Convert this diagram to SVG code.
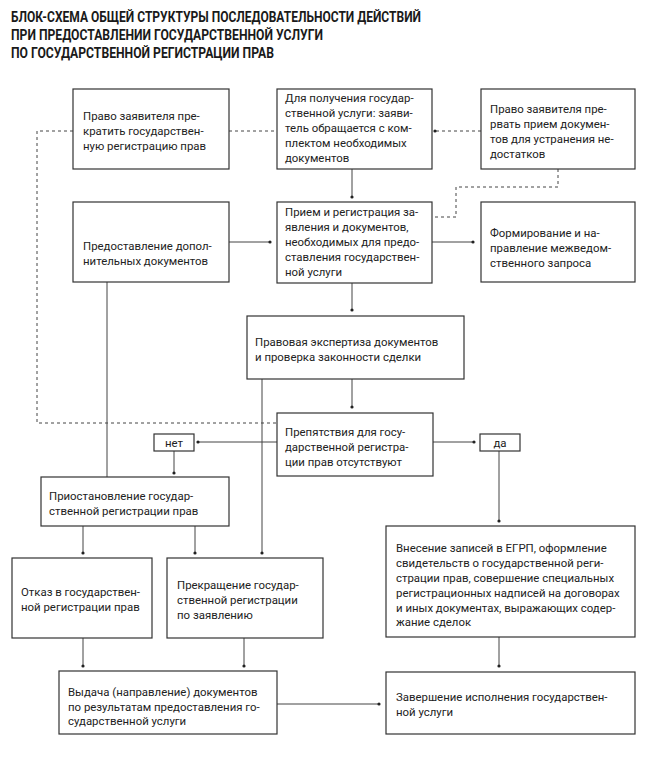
<svg xmlns="http://www.w3.org/2000/svg" width="650" height="760" viewBox="0 0 650 760">
<defs>
<marker id="dot" markerWidth="4" markerHeight="4" refX="2" refY="2" markerUnits="userSpaceOnUse">
<circle cx="2" cy="2" r="1.6" fill="#222"/>
</marker>
<style>
.box{fill:#fff;stroke:#333;stroke-width:1.2}
.t{font-family:Roboto,"Noto Sans","DejaVu Sans",sans-serif;font-size:11.4px;fill:#222}
.c{text-anchor:middle}
.ttl{font-family:Roboto,"DejaVu Sans",sans-serif;font-size:14.5px;font-weight:bold;fill:#1a1a1a}
.ln{fill:none;stroke:#444;stroke-width:1}
.dl{fill:none;stroke:#444;stroke-width:1;stroke-dasharray:3 3}
</style>
</defs>
<rect width="650" height="760" fill="#fff"/>
<g id="title">
<text class="ttl" x="11" y="22" textLength="410" lengthAdjust="spacingAndGlyphs">БЛОК-СХЕМА ОБЩЕЙ СТРУКТУРЫ ПОСЛЕДОВАТЕЛЬНОСТИ ДЕЙСТВИЙ</text>
<text class="ttl" x="11" y="40" textLength="312" lengthAdjust="spacingAndGlyphs">ПРИ ПРЕДОСТАВЛЕНИИ ГОСУДАРСТВЕННОЙ УСЛУГИ</text>
<text class="ttl" x="11" y="58" textLength="263" lengthAdjust="spacingAndGlyphs">ПО ГОСУДАРСТВЕННОЙ РЕГИСТРАЦИИ ПРАВ</text>
</g>
<g id="connectors">
<path class="dl" d="M229,131 H277"/>
<path class="dl" d="M481,131 H435" marker-end="url(#dot)"/>
<path class="dl" d="M558,169 V187 H456 V217 H432"/>
<path class="dl" d="M73,131 H37 V423 H277"/>
<path class="ln" d="M352,169 V197" marker-end="url(#dot)"/>
<path class="ln" d="M229,242 H270" marker-end="url(#dot)"/>
<path class="ln" d="M432,242 H473" marker-end="url(#dot)"/>
<path class="ln" d="M352,283 V310" marker-end="url(#dot)"/>
<path class="ln" d="M352,379 V407" marker-end="url(#dot)"/>
<path class="ln" d="M277,442 H198" marker-end="url(#dot)"/>
<path class="ln" d="M433,442 H474" marker-end="url(#dot)"/>
<path class="ln" d="M174,451 V473" marker-end="url(#dot)"/>
<path class="ln" d="M499,451 V521" marker-end="url(#dot)"/>
<path class="ln" d="M107,282 V477"/>
<path class="ln" d="M262,379 V553" marker-end="url(#dot)"/>
<path class="ln" d="M83,526 V553" marker-end="url(#dot)"/>
<path class="ln" d="M195,526 V553" marker-end="url(#dot)"/>
<path class="ln" d="M83,638 V666" marker-end="url(#dot)"/>
<path class="ln" d="M244,638 V666" marker-end="url(#dot)"/>
<path class="ln" d="M277,704 H379" marker-end="url(#dot)"/>
<path class="ln" d="M499,637 V666" marker-end="url(#dot)"/>
</g>
<g id="n-terminate">
<rect class="box" x="73" y="89" width="156" height="80"/>
<text class="t" x="83" y="119.5">Право заявителя пре-</text>
<text class="t" x="83" y="134.5">кратить государствен-</text>
<text class="t" x="83" y="149.5">ную регистрацию прав</text>
</g>
<g id="n-start">
<rect class="box" x="277" y="89" width="155" height="80"/>
<text class="t" x="285" y="102">Для получения государ-</text>
<text class="t" x="285" y="117">ственной услуги: заяви-</text>
<text class="t" x="285" y="132">тель обращается с ком-</text>
<text class="t" x="285" y="147">плектом необходимых</text>
<text class="t" x="285" y="162">документов</text>
</g>
<g id="n-interrupt">
<rect class="box" x="481" y="89" width="154" height="80"/>
<text class="t" x="490" y="113">Право заявителя пре-</text>
<text class="t" x="490" y="128">рвать прием докумен-</text>
<text class="t" x="490" y="143">тов для устранения не-</text>
<text class="t" x="490" y="158">достатков</text>
</g>
<g id="n-additional">
<rect class="box" x="73" y="202" width="156" height="80"/>
<text class="t" x="83" y="250">Предоставление допол-</text>
<text class="t" x="83" y="264.5">нительных документов</text>
</g>
<g id="n-reception">
<rect class="box" x="277" y="202" width="155" height="81"/>
<text class="t" x="285" y="216">Прием и регистрация за-</text>
<text class="t" x="285" y="231">явления и документов,</text>
<text class="t" x="285" y="246">необходимых для предо-</text>
<text class="t" x="285" y="261">ставления государствен-</text>
<text class="t" x="285" y="276">ной услуги</text>
</g>
<g id="n-request">
<rect class="box" x="481" y="202" width="154" height="80"/>
<text class="t" x="490" y="237">Формирование и на-</text>
<text class="t" x="490" y="252">правление межведом-</text>
<text class="t" x="490" y="267">ственного запроса</text>
</g>
<g id="n-expertise">
<rect class="box" x="247" y="316" width="217" height="63"/>
<text class="t" x="255" y="346">Правовая экспертиза документов</text>
<text class="t" x="255" y="361">и проверка законности сделки</text>
</g>
<g id="n-obstacles">
<rect class="box" x="277" y="413" width="156" height="63"/>
<text class="t" x="285" y="436">Препятствия для госу-</text>
<text class="t" x="285" y="451">дарственной регистра-</text>
<text class="t" x="285" y="466">ции прав отсутствуют</text>
</g>
<g id="n-no">
<rect class="box" x="154" y="434" width="40" height="17"/>
<text class="t c" x="174" y="446.5">нет</text>
</g>
<g id="n-yes">
<rect class="box" x="480" y="434" width="40" height="17"/>
<text class="t c" x="500" y="446.5">да</text>
</g>
<g id="n-suspend">
<rect class="box" x="41" y="477" width="188" height="49"/>
<text class="t" x="49" y="500">Приостановление государ-</text>
<text class="t" x="49" y="515">ственной регистрации прав</text>
</g>
<g id="n-refusal">
<rect class="box" x="12" y="558" width="140" height="80"/>
<text class="t" x="21" y="596">Отказ в государствен-</text>
<text class="t" x="21" y="610.5">ной регистрации прав</text>
</g>
<g id="n-cessation">
<rect class="box" x="167" y="558" width="156" height="80"/>
<text class="t" x="177" y="589">Прекращение государ-</text>
<text class="t" x="177" y="604">ственной регистрации</text>
<text class="t" x="177" y="618.5">по заявлению</text>
</g>
<g id="n-issue">
<rect class="box" x="59" y="671" width="218" height="63"/>
<text class="t" x="68" y="696">Выдача (направление) документов</text>
<text class="t" x="68" y="711">по результатам предоставления го-</text>
<text class="t" x="68" y="725">сударственной услуги</text>
</g>
<g id="n-entry">
<rect class="box" x="386" y="526" width="249" height="111"/>
<text class="t" x="396" y="552">Внесение записей в ЕГРП, оформление</text>
<text class="t" x="396" y="567">свидетельств о государственной реги-</text>
<text class="t" x="396" y="582">страции прав, совершение специальных</text>
<text class="t" x="396" y="597">регистрационных надписей на договорах</text>
<text class="t" x="396" y="611.5">и иных документах, выражающих содер-</text>
<text class="t" x="396" y="626">жание сделок</text>
</g>
<g id="n-finish">
<rect class="box" x="386" y="672" width="249" height="62"/>
<text class="t" x="396" y="701">Завершение исполнения государствен-</text>
<text class="t" x="396" y="716">ной услуги</text>
</g>
</svg>
